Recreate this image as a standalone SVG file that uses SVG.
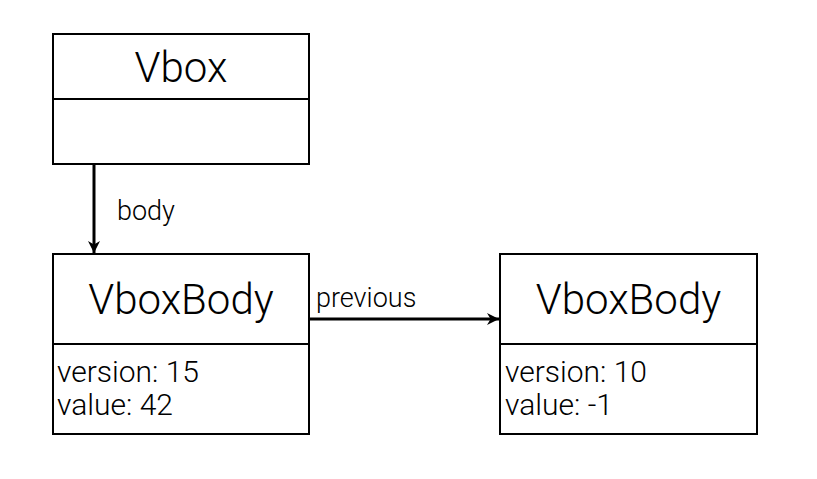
<svg xmlns="http://www.w3.org/2000/svg" width="817" height="479" viewBox="0 0 817 479">
<style>
.box{fill:#fff;stroke:#000;stroke-width:2}
.div{stroke:#000;stroke-width:2}
.title{font-family:Roboto,"Liberation Sans",sans-serif;font-weight:300;font-size:42px;text-anchor:middle;fill:#000}
.attr{font-family:Roboto,"Liberation Sans",sans-serif;font-weight:300;font-size:30px;fill:#000}
.lbl{font-family:Roboto,"Liberation Sans",sans-serif;font-weight:300;font-size:27px;fill:#000}
.edge{stroke:#000;stroke-width:3;fill:none}
</style>
<defs>
<marker id="arr" viewBox="0 0 10 10" refX="10" refY="5" markerWidth="4" markerHeight="4" orient="auto" markerUnits="strokeWidth">
<path d="M0,0 L10,5 L0,10 L3,5 Z" fill="#000"/>
</marker>
</defs>
<rect width="817" height="479" fill="#fff"/>
<g id="connectors">
<line class="edge" x1="94" y1="164" x2="94" y2="253" marker-end="url(#arr)"/>
<text class="lbl" x="117" y="220">body</text>
<line class="edge" x1="310" y1="319" x2="499" y2="319" marker-end="url(#arr)"/>
<text class="lbl" x="316" y="307">previous</text>
</g>
<g id="vbox">
<rect class="box" x="53" y="34" width="256" height="130"/>
<line class="div" x1="53" y1="99" x2="309" y2="99"/>
<text class="title" x="181" y="82">Vbox</text>
</g>
<g id="vboxbody1">
<rect class="box" x="53" y="254" width="256" height="180"/>
<line class="div" x1="53" y1="344" x2="309" y2="344"/>
<text class="title" x="181" y="314">VboxBody</text>
<text class="attr" x="57" y="382">version: 15</text>
<text class="attr" x="57" y="415">value: 42</text>
</g>
<g id="vboxbody2">
<rect class="box" x="500" y="254" width="257" height="180"/>
<line class="div" x1="500" y1="344" x2="757" y2="344"/>
<text class="title" x="628.5" y="314">VboxBody</text>
<text class="attr" x="505" y="382">version: 10</text>
<text class="attr" x="505" y="415">value: -1</text>
</g>
</svg>
